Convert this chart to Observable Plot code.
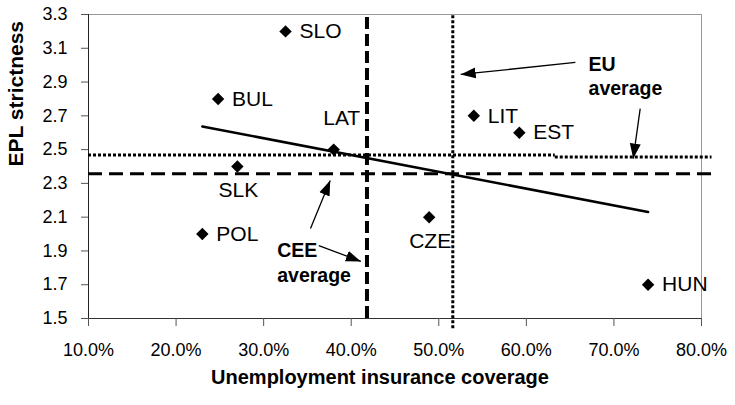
<!DOCTYPE html>
<html><head><meta charset="utf-8">
<script src="https://cdn.jsdelivr.net/npm/d3@7"></script>
<script src="https://cdn.jsdelivr.net/npm/@observablehq/plot@0.6"></script>
<style>
body{margin:0;background:#fff;}
svg{font-family:"Liberation Sans",Arial,sans-serif;}
</style></head><body><div id="chart"></div>
<script>
const countries = ["SLO","BUL","LAT","SLK","POL","LIT","EST","CZE","HUN"];
const coverage = [32.5,24.8,38.0,27.0,23.0,54.0,59.2,48.9,73.9];
const epl = [3.2,2.8,2.5,2.4,2.0,2.7,2.6,2.1,1.7];
const labelSide = ["right","right","above","below","right","right","right","below","right"];
const xTicks = [10,20,30,40,50,60,70,80];
const yTicks = [1.5,1.7,1.9,2.1,2.3,2.5,2.7,2.9,3.1,3.3];
const ceeAvgX = 41.8, ceeAvgY = 2.357;
const euAvgX = 51.6;
const euAvgYSegments = [{x1:10,x2:63.3,y:2.468},{x1:63.3,x2:81.2,y:2.456}];
const annotationText = ["EU\naverage","CEE\naverage"];
const annotationX = [67.1, 31.55];
const annotationY = [3.07, 1.965];
const arrowFromX = [65.6, 73.0, 35.35, 36.3];
const arrowFromY = [3.016, 2.743, 2.033, 1.932];
const arrowToX = [52.5, 72.2, 37.6, 41.1];
const arrowToY = [2.945, 2.447, 2.317, 1.838];

const pts = countries.map((c,i)=>({c, x:coverage[i], y:epl[i], side:labelSide[i]}));
const notes = annotationText.map((t,i)=>({t, x:annotationX[i], y:annotationY[i]}));
const arrows = arrowFromX.map((d,i)=>({x1:d, y1:arrowFromY[i], x2:arrowToX[i], y2:arrowToY[i]}));

const plot = Plot.plot({
  width: 735, height: 405,
  marginLeft: 88, marginRight: 34, marginTop: 14, marginBottom: 87,
  style: {fontFamily: '"Liberation Sans", Arial, sans-serif', background: "#fff", overflow: "visible"},
  x: {domain: [10, 80]},
  y: {domain: [1.5, 3.3]},
  marks: [
    Plot.frame({stroke: "#999"}),
    Plot.ruleX([10], {stroke: "#222"}),
    Plot.ruleY([1.5], {stroke: "#333"}),
    Plot.axisX({ticks: xTicks, tickSize: 8, tickPadding: 17, tickFormat: d => d.toFixed(1) + "%", fontSize: 18, stroke: "#555", label: null}),
    Plot.axisY({ticks: yTicks, tickSize: 7, tickPadding: 14, tickFormat: d => d.toFixed(1), fontSize: 18, stroke: "#555", label: null}),
    Plot.text(["Unemployment insurance coverage"], {frameAnchor: "bottom", dy: 65, dx: -15, fontSize: 20, fontWeight: "bold"}),
    Plot.text(["EPL strictness"], {frameAnchor: "left", dx: -72, rotate: -90, fontSize: 21, fontWeight: "bold"}),
    // averages
    Plot.ruleX([ceeAvgX], {y1: 1.5, y2: 3.3, stroke: "black", strokeWidth: 4, strokeDasharray: "12,5"}),
    Plot.ruleY([ceeAvgY], {x1: 10, x2: 81.2, stroke: "black", strokeWidth: 3, strokeDasharray: "14,7"}),
    Plot.ruleX([euAvgX], {y1: 1.44, y2: 3.3, stroke: "black", strokeWidth: 3, strokeDasharray: "3,2"}),
    Plot.ruleY(euAvgYSegments, {y: "y", x1: "x1", x2: "x2", stroke: "black", strokeWidth: 3, strokeDasharray: "3,2"}),
    // regression
    Plot.linearRegressionY(pts, {x: "x", y: "y", ci: 0, stroke: "black", strokeWidth: 2.6}),
    // points
    Plot.dot(pts, {x: "x", y: "y", symbol: "diamond2", r: 5.6, fill: "black", stroke: "none"}),
    Plot.text(pts.filter(d => d.side === "right"), {x: "x", y: "y", text: "c", textAnchor: "start", dx: 14, fontSize: 21}),
    Plot.text(pts.filter(d => d.side === "above"), {x: "x", y: "y", text: "c", dx: 8, dy: -31, fontSize: 21}),
    Plot.text(pts.filter(d => d.side === "below"), {x: "x", y: "y", text: "c", dx: 1, dy: 24, fontSize: 21}),
    // annotations
    Plot.text(notes, {x: "x", y: "y", text: "t", textAnchor: "start", lineAnchor: "top", lineHeight: 1.25, fontSize: 19.5, fontWeight: "bold"}),
    Plot.link(arrows, {x1: "x1", y1: "y1", x2: "x2", y2: "y2", stroke: "black", strokeWidth: 1.3})
  ]
});

// filled arrowheads
const svg = d3.select(plot);
const defs = svg.insert("defs", ":first-child");
defs.append("marker").attr("id", "ah").attr("viewBox", "0 -6 15 12")
  .attr("markerWidth", 15).attr("markerHeight", 12).attr("refX", 15).attr("refY", 0)
  .attr("markerUnits", "userSpaceOnUse").attr("orient", "auto")
  .append("path").attr("d", "M0,-5.5L15,0L0,5.5Z").attr("fill", "black");
svg.selectAll('g[aria-label="link"] path, g[aria-label="link"] line').attr("marker-end", "url(#ah)");

document.getElementById("chart").appendChild(plot);
</script></body></html>
